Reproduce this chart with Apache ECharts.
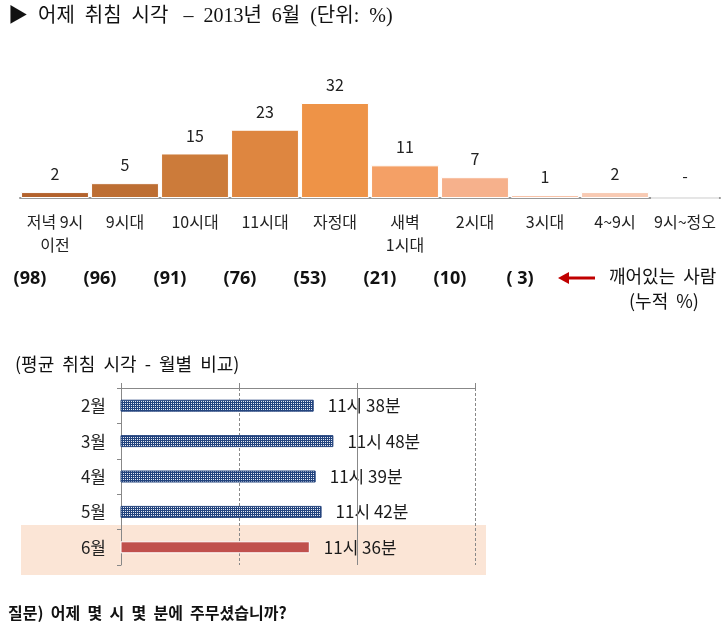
<!DOCTYPE html>
<html>
<head>
<meta charset="utf-8">
<script src="https://cdn.jsdelivr.net/npm/echarts@6/dist/echarts.min.js"></script>
<style>
  html, body { margin: 0; padding: 0; background: #fff; }
  #main { width: 728px; height: 629px; }
</style>
</head>
<body>
<div id="main"></div>
<script>
// 취침 시간대별 비율 (%)
const slots = ['저녁 9시\n이전', '9시대', '10시대', '11시대', '자정대', '새벽\n1시대', '2시대', '3시대', '4~9시', '9시~정오'];
const sleepPct = [2, 5, 15, 23, 32, 11, 7, 1, 2, null];
const awakeCum = [98, 96, 91, 76, 53, 21, 10, 3];
const slotColors = ['#b3622c', '#bd6e33', '#cc7b3a', '#de8640', '#ee9347', '#f4a066', '#f6b18c', '#f8c2a6', '#f8cab3', '#ffffff'];

// 평균 취침 시각 - 월별
const months = ['2월', '3월', '4월', '5월', '6월'];
const bedHour = [11, 11, 11, 11, 11];
const bedMin = [38, 48, 39, 42, 36];
const timeTicks = [10, 11, 12, 13];

const KR = '"Noto Sans CJK KR", "Noto Sans", sans-serif';

// 체크 무늬 패턴
function checker() {
  const c = document.createElement('canvas');
  c.width = 4; c.height = 4;
  const g = c.getContext('2d');
  g.fillStyle = '#23447e';
  g.fillRect(0, 0, 4, 4);
  g.fillStyle = '#e4eaf4';
  g.fillRect(1, 1, 1, 1);
  g.fillRect(3, 3, 1, 1);
  g.fillRect(1, 3, 1, 1);
  g.fillRect(3, 1, 1, 1);
  return c;
}
const pat = checker();

const chart = echarts.init(document.getElementById('main'));

const option = {
  animation: false,
  backgroundColor: '#fff',
  textStyle: { fontFamily: KR },
  title: [
    {
      text: '▶  어제  취침  시각   –  2013년  6월  (단위:  %)',
      left: 3, top: 2,
      textStyle: { fontSize: 20, fontWeight: 'normal', color: '#111', fontFamily: '"Liberation Serif", "Noto Sans CJK KR", serif' }
    },
    {
      text: '(평균  취침  시각  -  월별  비교)',
      left: 10, top: 350,
      textStyle: { fontSize: 18, fontWeight: 'normal', color: '#111', fontFamily: KR }
    },
    {
      text: '질문)  어제  몇  시  몇  분에  주무셨습니까?',
      left: 3, top: 600,
      textStyle: { fontSize: 16, fontWeight: 'bold', color: '#111', fontFamily: KR }
    }
  ],
  graphic: [
    { type: 'rect', z: -1, shape: { x: 21, y: 525, width: 465, height: 50 }, style: { fill: '#fbe5d6' } },
    { type: 'line', shape: { x1: 566, y1: 278, x2: 595, y2: 278 }, style: { stroke: '#c00000', lineWidth: 3 } },
    { type: 'polygon', shape: { points: [[558, 278], [569, 272], [569, 284]] }, style: { fill: '#c00000' } },
    { type: 'text', left: 609, top: 267, style: { text: '깨어있는  사람', fontSize: 18, fill: '#111', fontFamily: KR } },
    { type: 'text', left: 629, top: 292, style: { text: '(누적  %)', fontSize: 18, fill: '#111', fontFamily: KR } }
  ],
  grid: [
    { left: 20, right: 8, top: 103, bottom: 431 },
    { left: 121, right: 253, top: 388, bottom: 64 }
  ],
  xAxis: [
    {
      type: 'category', gridIndex: 0, data: slots,
      axisLine: { lineStyle: { color: '#999', width: 2 } },
      axisTick: { show: false },
      axisLabel: { interval: 0, fontSize: 16, color: '#222', lineHeight: 23, margin: 12 }
    },
    {
      type: 'category', gridIndex: 0, data: slots, position: 'bottom', offset: 64,
      axisLine: { show: false }, axisTick: { show: false },
      axisLabel: {
        interval: 0, fontSize: 18, fontWeight: 'bold', color: '#111', margin: 8, padding: [0, 50, 0, 0],
        fontFamily: '"Liberation Sans Narrow", "Noto Sans", sans-serif',
        formatter: (v, i) => i < awakeCum.length ? '(' + String(awakeCum[i]).padStart(2, ' ') + ')' : ''
      }
    },
    {
      type: 'value', gridIndex: 1, position: 'top',
      min: timeTicks[0], max: timeTicks[timeTicks.length - 1], interval: 1,
      axisLine: { show: true, lineStyle: { color: '#888' } },
      axisTick: { show: true, length: 5, lineStyle: { color: '#888' } },
      axisLabel: { show: false },
      splitLine: { show: true, lineStyle: { color: '#888', type: [3, 2] } }
    }
  ],
  yAxis: [
    { type: 'value', gridIndex: 0, min: 0, max: 32, show: false, splitLine: { show: false } },
    {
      type: 'category', gridIndex: 1, data: months, inverse: true,
      axisLine: { show: true, lineStyle: { color: '#888' } },
      axisTick: { show: true, length: 4, lineStyle: { color: '#888' } },
      axisLabel: { fontSize: 17, color: '#222', margin: 15 }
    }
  ],
  series: [
    {
      type: 'bar', xAxisIndex: 0, yAxisIndex: 0, barCategoryGap: '3%',
      data: sleepPct.map((v, i) => v == null
        ? { value: 0, itemStyle: { color: slotColors[i] }, label: { formatter: '-', distance: 14 } }
        : { value: v, itemStyle: { color: slotColors[i] } }),
      itemStyle: { borderColor: '#fff', borderWidth: 1 },
      label: { show: true, position: 'top', distance: 10, fontSize: 16, color: '#222' }
    },
    {
      type: 'bar', xAxisIndex: 2, yAxisIndex: 1, barWidth: 12,
      data: months.map((m, i) => ({
        value: bedHour[i] + bedMin[i] / 60,
        itemStyle: i === months.length - 1
          ? { color: '#c0504d', borderColor: '#fff', borderWidth: 1 }
          : { color: { image: pat, repeat: 'repeat' }, borderColor: '#27467f', borderWidth: 1 }
      })),
      label: {
        show: true, position: 'right', distance: 14, fontSize: 17, color: '#1a1a1a',
        formatter: p => bedHour[p.dataIndex] + '시 ' + bedMin[p.dataIndex] + '분'
      },
      markLine: {
        silent: true, symbol: 'none', label: { show: false },
        lineStyle: { color: '#888', type: 'solid', width: 1 },
        data: [{ xAxis: 12 }]
      }
    }
  ]
};

chart.setOption(option);
</script>
</body>
</html>
